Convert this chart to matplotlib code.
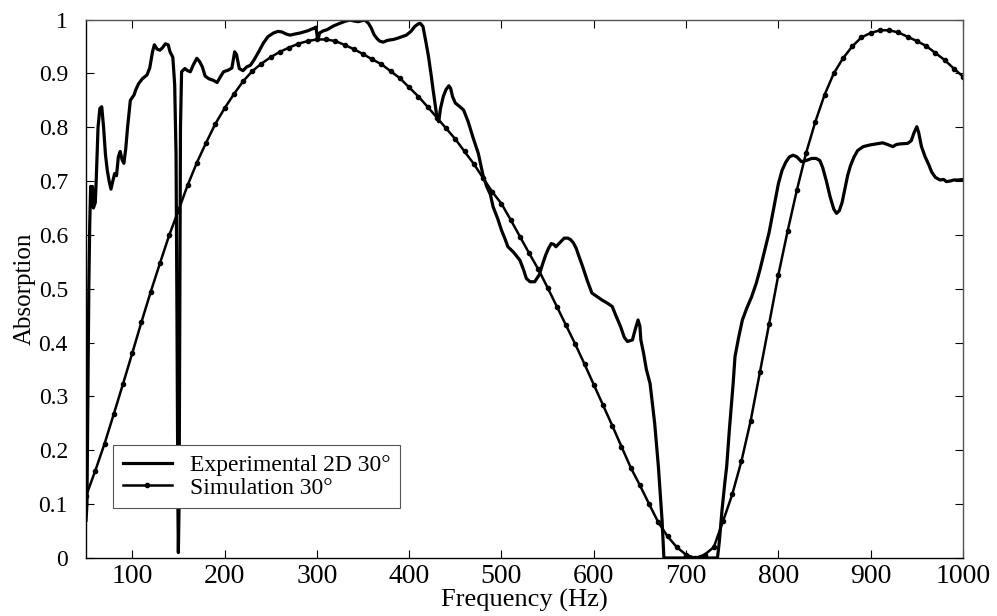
import matplotlib
matplotlib.use('Agg')
import matplotlib.pyplot as plt
from matplotlib.ticker import FormatStrFormatter


# experimental curve
exp_freq = [50, 51, 52, 53, 54, 55, 56, 57, 58, 60, 61, 63, 65, 67, 69, 71, 73, 75, 77, 79,
            81, 83, 85, 87, 89, 91, 93, 95, 98, 100, 102, 104, 107, 111, 116, 119, 122, 124,
            127, 130, 133, 136, 139, 141, 144, 146, 147.5, 148.5, 149.5, 150, 150.8, 151.5,
            152.3, 153.5, 157, 160, 163, 166, 170, 173, 176, 179, 183, 188, 192, 196, 199,
            204, 208, 211, 213, 216, 220, 224, 228, 232, 237, 242, 247, 253, 258, 262, 267,
            271, 276, 282, 290, 297, 299, 300.5, 301.6, 303, 307, 311, 318, 325, 331, 336,
            341, 345, 349, 352, 356, 359, 362, 365, 368, 372, 376, 379, 383, 387, 392, 397,
            402, 406, 410, 412, 415, 418, 421, 424, 426, 428, 430, 432, 434, 437, 440, 443,
            445, 447, 450, 455, 459, 464, 469, 475, 480, 484, 488, 491, 496, 500, 504, 507,
            513, 520, 524, 527, 531, 536, 541, 545, 548, 551, 554, 557, 559, 563, 568, 572,
            575, 578, 581, 584, 588, 593, 598, 604, 609, 615, 620, 624, 629, 633, 636.5,
            641.9, 645, 648, 650, 651, 654, 657, 661, 664, 666, 668, 670, 672, 674, 676,
            734, 736, 739, 742, 744, 747, 751, 753, 757, 761, 766, 771, 776, 780, 785, 790,
            795, 800, 804, 808, 812, 816, 820, 825, 830, 836, 841, 845, 848, 852, 856, 860,
            863, 866, 869, 872, 875, 878, 882, 886, 892, 899, 906, 913, 918, 924, 928, 932,
            940, 944, 947, 950, 952, 955, 959, 963, 966, 970, 975, 979, 982, 986, 990, 995,
            1000]
exp_abs = [0.07, 0.10, 0.30, 0.50, 0.62, 0.69, 0.68, 0.69, 0.65, 0.66, 0.70, 0.80, 0.835,
           0.838, 0.80, 0.75, 0.72, 0.70, 0.685, 0.70, 0.714, 0.71, 0.745, 0.755, 0.74, 0.733,
           0.76, 0.80, 0.85, 0.855, 0.86, 0.87, 0.881, 0.89, 0.897, 0.91, 0.94, 0.953, 0.945,
           0.943, 0.948, 0.955, 0.953, 0.94, 0.93, 0.88, 0.75, 0.45, 0.10, 0.01, 0.10, 0.45,
           0.80, 0.903, 0.909, 0.905, 0.903, 0.915, 0.928, 0.922, 0.912, 0.895, 0.89, 0.887,
           0.883, 0.895, 0.903, 0.906, 0.91, 0.94, 0.935, 0.909, 0.905, 0.912, 0.915, 0.925,
           0.94, 0.956, 0.968, 0.975, 0.978, 0.977, 0.973, 0.971, 0.973, 0.975, 0.979, 0.984,
           0.986, 0.968, 0.965, 0.975, 0.979, 0.981, 0.988, 0.993, 0.997, 0.999, 0.997, 0.996,
           0.998, 0.999, 0.993, 0.984, 0.972, 0.965, 0.960, 0.958, 0.961, 0.962, 0.963, 0.965,
           0.968, 0.971, 0.978, 0.987, 0.992, 0.993, 0.987, 0.96, 0.931, 0.895, 0.869, 0.845,
           0.82, 0.81, 0.835, 0.857, 0.87, 0.877, 0.872, 0.857, 0.845, 0.838, 0.832, 0.81,
           0.782, 0.751, 0.711, 0.69, 0.675, 0.652, 0.63, 0.609, 0.592, 0.578, 0.568, 0.553,
           0.535, 0.519, 0.513, 0.513, 0.526, 0.548, 0.563, 0.575, 0.584, 0.582, 0.578, 0.585,
           0.594, 0.594, 0.591, 0.585, 0.575, 0.56, 0.541, 0.515, 0.492, 0.485, 0.479, 0.473,
           0.467, 0.45, 0.43, 0.41, 0.402, 0.405, 0.425, 0.442, 0.43, 0.405, 0.38, 0.35, 0.324,
           0.28, 0.25, 0.21, 0.17, 0.12, 0.07, 0.0,
           0.0, 0.03, 0.09, 0.14, 0.17, 0.24, 0.324, 0.374, 0.41, 0.442, 0.465, 0.485, 0.51,
           0.535, 0.57, 0.605, 0.65, 0.695, 0.72, 0.735, 0.745, 0.748, 0.745, 0.736, 0.738,
           0.742, 0.742, 0.738, 0.725, 0.70, 0.671, 0.648, 0.64, 0.645, 0.66, 0.685, 0.71,
           0.728, 0.745, 0.757, 0.764, 0.767, 0.769, 0.771, 0.768, 0.764, 0.768, 0.769, 0.770,
           0.775, 0.79, 0.801, 0.79, 0.764, 0.745, 0.73, 0.717, 0.707, 0.702, 0.703, 0.699,
           0.70, 0.702, 0.702, 0.703]

# simulation, one point every 10 Hz
sim_freq = list(range(50, 1001, 10))
sim_abs = [0.115, 0.162, 0.212, 0.267, 0.323, 0.380, 0.438, 0.494, 0.547, 0.599,
           0.645, 0.692, 0.734, 0.771, 0.806, 0.835, 0.861, 0.885, 0.904, 0.918,
           0.930, 0.940, 0.948, 0.955, 0.960, 0.963, 0.963, 0.960, 0.953, 0.945,
           0.936, 0.926, 0.917, 0.904, 0.891, 0.874, 0.857, 0.838, 0.818, 0.798,
           0.778, 0.755, 0.732, 0.706, 0.680, 0.658, 0.628, 0.597, 0.566, 0.536,
           0.502, 0.467, 0.432, 0.397, 0.360, 0.322, 0.284, 0.246, 0.207, 0.168,
           0.135, 0.100, 0.066, 0.040, 0.020, 0.006, 0.000, 0.006, 0.020, 0.068,
           0.118, 0.180, 0.255, 0.345, 0.435, 0.526, 0.607, 0.683, 0.752, 0.810,
           0.860, 0.900, 0.928, 0.950, 0.967, 0.975, 0.980, 0.980, 0.976, 0.968,
           0.960, 0.951, 0.938, 0.925, 0.909, 0.894]

xticks = [100, 200, 300, 400, 500, 600, 700, 800, 900, 1000]
yticks = [0, 0.1, 0.2, 0.3, 0.4, 0.5, 0.6, 0.7, 0.8, 0.9, 1]


def renderChart():
    plt.rcParams['font.family'] = ['Liberation Serif', 'DejaVu Serif']

    fig = plt.figure(figsize=(9.97, 6.16), dpi=100)
    ax = fig.add_axes([0.0863, 0.0942, 0.8796, 0.8741])

    ax.plot(exp_freq, exp_abs, color='black', linewidth=2.3,
            label='Experimental 2D 30°')
    ax.plot(sim_freq, sim_abs, color='black', linewidth=1.8, marker='o',
            markersize=3.0, label='Simulation 30°')

    ax.set_xlim(50, 1000)
    ax.set_ylim(0, 1)
    ax.set_xticks(xticks)
    ax.set_yticks(yticks)
    ax.yaxis.set_major_formatter(FormatStrFormatter('%g'))

    ax.tick_params(direction='in', top=True, right=True, length=6, width=0.8)
    ax.tick_params(axis='x', labelsize=20, pad=4)
    ax.tick_params(axis='y', labelsize=17, pad=13)

    for side in ['left', 'bottom']:
        ax.spines[side].set_color('black')
        ax.spines[side].set_linewidth(1.0)
    for side in ['top', 'right']:
        ax.spines[side].set_color('#555555')
        ax.spines[side].set_linewidth(1.0)

    ax.set_xlabel('Frequency (Hz)', fontsize=19, labelpad=0)
    ax.set_ylabel('Absorption', fontsize=18, labelpad=2)

    leg = ax.legend(loc='upper left', bbox_to_anchor=(0.031, 0.21), fontsize=17,
                    fancybox=False, framealpha=1, edgecolor='#555555',
                    handlelength=2.1, handletextpad=0.75, labelspacing=0.05,
                    borderpad=0.4, borderaxespad=0)
    leg.get_frame().set_linewidth(0.8)

    fig.savefig('out.png', dpi=100)


def main():
    renderChart()


if __name__ == "__main__":
    main()
